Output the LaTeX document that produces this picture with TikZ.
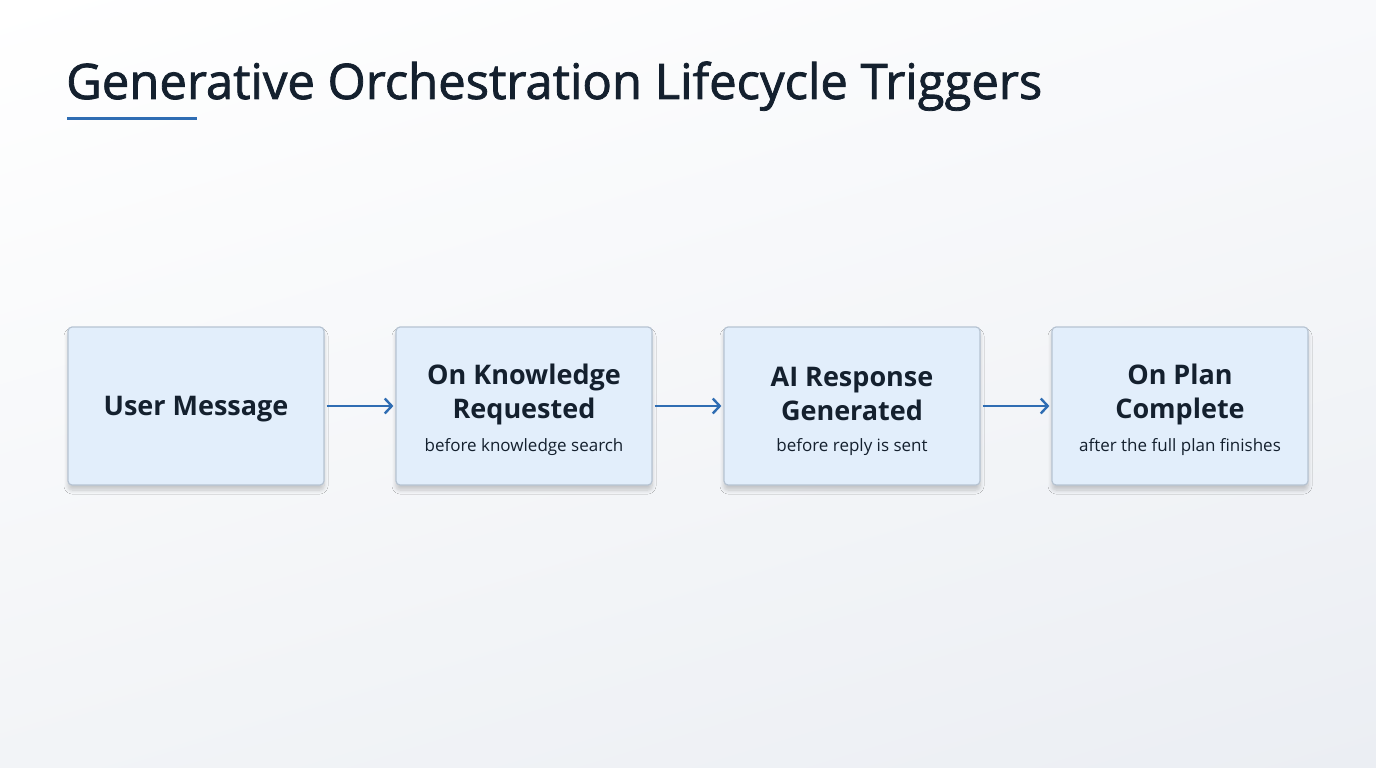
\documentclass[tikz,border=0pt]{standalone}
\usepackage{fontspec}
\setmainfont{Open Sans}
\newfontfamily\titlefont[FakeBold=1.6]{Open Sans}
\usetikzlibrary{shadows.blur,arrows.meta,shadings}
\definecolor{bgA}{HTML}{FFFFFF}
\definecolor{bgUR}{HTML}{F8F9FB}
\definecolor{bgLL}{HTML}{F2F4F7}
\definecolor{bgB}{HTML}{EBEEF3}
\definecolor{boxfill}{HTML}{E2EEFB}
\definecolor{boxline}{HTML}{B6C3D2}
\definecolor{ink}{HTML}{14202E}
\definecolor{accent}{HTML}{2F6DB3}
\tikzset{
  stagebox/.style={draw=boxline, line width=1.2pt, fill=boxfill, rounded corners=4pt,
    minimum width=256pt, minimum height=158pt, inner sep=0pt, align=center,
    blur shadow={shadow xshift=0pt, shadow yshift=-5pt, shadow blur steps=8, shadow blur radius=4pt, shadow blur extra rounding=2pt, shadow opacity=20}},
  maintext/.style={font=\fontsize{27}{34}\selectfont\bfseries, text=ink},
  subtext/.style={font=\fontsize{17}{20}\selectfont, text=ink},
  flow/.style={draw=accent, line width=2.4pt, -{Straight Barb[length=7pt,width=15pt,line width=2.4pt]}}
}
\begin{document}
\begin{tikzpicture}[x=1pt,y=-1pt]
\shade[upper left=bgA, upper right=bgUR, lower left=bgLL, lower right=bgB] (0,0) rectangle (1376,768);
\useasboundingbox (0,0) rectangle (1376,768);
\node[anchor=base west, font=\titlefont\fontsize{49}{56}\selectfont, text=ink, inner sep=0pt] (title) at (66,99) {Generative Orchestration Lifecycle Triggers};
\draw[accent, line width=3pt] (67,118) -- (197,118);
\node[stagebox] (b1) at (196,406) {};
\node[stagebox] (b2) at (524,406) {};
\node[stagebox] (b3) at (852,406) {};
\node[stagebox] (b4) at (1180,406) {};
\node[maintext] (t1) at (196,409) {User Message};
\node[maintext, align=center] (t2) at (524,394) {On Knowledge\\Requested};
\node[subtext] (s2) at (524,447) {before knowledge search};
\node[maintext, align=center] (t3) at (852,394) {AI Response\\Generated};
\node[subtext] (s3) at (852,447) {before reply is sent};
\node[maintext, align=center] (t4) at (1180,394) {On Plan\\Complete};
\node[subtext] (s4) at (1180,447) {after the full plan finishes};
\draw[flow] ([xshift=2pt]b1.east) -- ([xshift=-2pt]b2.west);
\draw[flow] ([xshift=2pt]b2.east) -- ([xshift=-2pt]b3.west);
\draw[flow] ([xshift=2pt]b3.east) -- ([xshift=-2pt]b4.west);
\end{tikzpicture}
\end{document}
